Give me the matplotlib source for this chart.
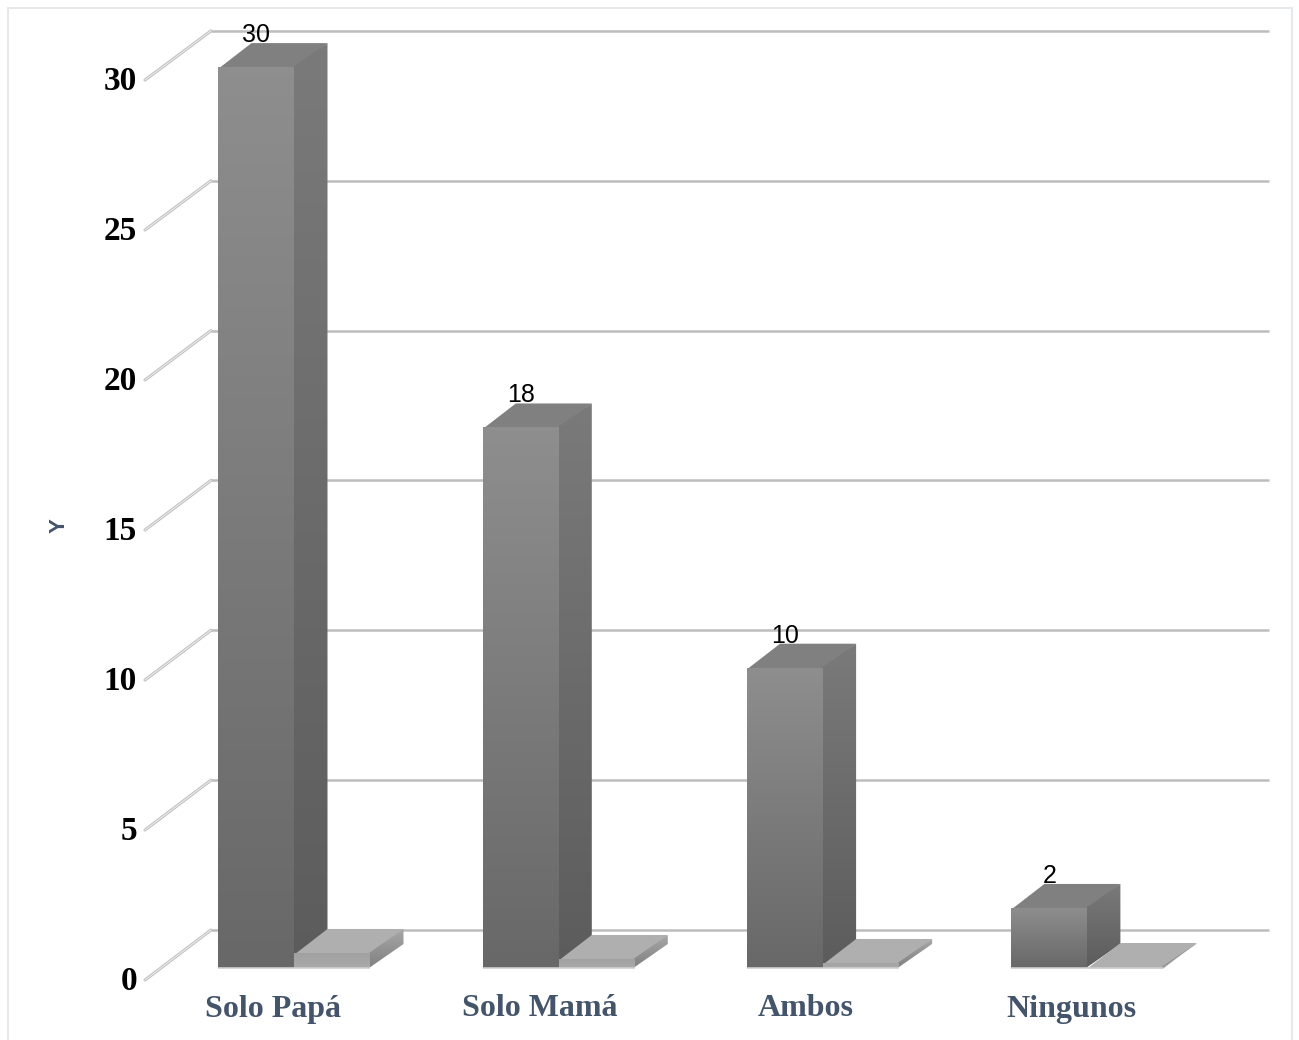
import numpy as np
import matplotlib
matplotlib.use("Agg")
import matplotlib.pyplot as plt
from matplotlib.patches import Polygon, Rectangle
from matplotlib.colors import LinearSegmentedColormap

categories = ["Solo Papá", "Solo Mamá", "Ambos", "Ningunos"]
counts = [30, 18, 10, 2]
shares = [0.5, 0.3, 0.167, 0.033]
y_ticks = [0, 5, 10, 15, 20, 25, 30]
count_labels = ["30", "18", "10", "2"]

# pixel layout of the fake 3d box
PX_PER_CAT = 264.3
PX_PER_VAL = 30.03
ZERO_X = 294.5
ZERO_Y = 968
BAR_W = 76 / PX_PER_CAT
DEPTH_X = 33 / PX_PER_CAT
DEPTH_Y = 24 / PX_PER_VAL
SEAM = 1.5 / PX_PER_CAT

GRID = "#bdbdbd"
SLATE = "#44546a"


def px_x(p):
    return (p - ZERO_X) / PX_PER_CAT


def px_y(p):
    return (ZERO_Y - p) / PX_PER_VAL


def face(ax, pts, top, bottom, z):
    # one polygon filled with a vertical gradient
    pts = np.array(pts)
    cmap = LinearSegmentedColormap.from_list("f", [bottom, top])
    grad = np.linspace(1, 0, 128).reshape(-1, 1)
    im = ax.imshow(grad, cmap=cmap, vmin=0, vmax=1, aspect="auto", zorder=z,
                   extent=(pts[:, 0].min(), pts[:, 0].max(), pts[:, 1].min(), pts[:, 1].max()))
    clip = Polygon(pts, closed=True, transform=ax.transData, facecolor="none", edgecolor="none")
    ax.add_patch(clip)
    im.set_clip_path(clip)


def bar3d(ax, x0, h, front, side, top, z):
    x1 = x0 + BAR_W
    dx, dy = DEPTH_X, DEPTH_Y
    # top and side go first and run slightly under the front, this hides the seam
    ax.add_patch(Polygon([(x0, h - 0.05), (x1, h - 0.05), (x1 + dx, h + dy), (x0 + dx, h + dy)],
                         closed=True, facecolor=top, edgecolor="none", zorder=z))
    face(ax, [(x1 - SEAM, 0), (x1 + dx, dy), (x1 + dx, h + dy), (x1 - SEAM, h)], side[0], side[1], z + 0.01)
    face(ax, [(x0, 0), (x1, 0), (x1, h), (x0, h)], front[0], front[1], z + 0.02)
    ax.plot([x0, x1], [0, 0], color="#cfcfcf", lw=1.2, zorder=z + 0.03, solid_capstyle="butt")


fig = plt.figure(figsize=(12.99, 10.4), dpi=100, facecolor="white")
ax = fig.add_axes([0, 0, 1, 1])
ax.axis("off")

fig.add_artist(Rectangle((8 / 1299, -0.01), 1284 / 1299, 1.01 - 8 / 1040, transform=fig.transFigure,
                         facecolor="none", edgecolor="#e6e8ec", lw=1.5))

# walls: gridlines on the back and the slanted ticks on the left
back = 38 / PX_PER_VAL
for v in y_ticks:
    yb = v * 29.97 / PX_PER_VAL + back
    yf = v * 30.0 / PX_PER_VAL + px_y(980)
    ax.plot([px_x(145), px_x(211)], [yf, yb], color=GRID, lw=2.2, zorder=1, solid_capstyle="round")
    ax.plot([px_x(145), px_x(211)], [yf, yb], color="#ececec", lw=0.8, zorder=1.1)
    ax.plot([px_x(211), px_x(1269)], [yb, yb], color=GRID, lw=1.8, zorder=1, solid_capstyle="butt")
    ax.text(px_x(137), yf - 2 / PX_PER_VAL, str(v), family="Liberation Serif", weight="bold", fontsize=24,
            ha="right", va="center", color="black", zorder=5)

for i, cat in enumerate(categories):
    bar3d(ax, i - BAR_W, counts[i], ("#8e8e8e", "#686868"), ("#7a7a7a", "#5c5c5c"), "#808080", 2 + i * 0.1)
    bar3d(ax, i, shares[i], ("#a0a0a0", "#aaaaaa"), ("#a8a8a8", "#808080"), "#afafaf", 3 + i * 0.1)
    ax.text(i - BAR_W + 38 / PX_PER_CAT, counts[i] + 32 / PX_PER_VAL, count_labels[i],
            family="Liberation Sans", fontsize=18, ha="center", va="center", color="black", zorder=6)
    ax.text(px_x(273 + 266.3 * i), px_y(1009), cat, family="Liberation Serif", weight="bold", fontsize=23,
            ha="center", va="center", color=SLATE, zorder=6)

ax.text(px_x(59), px_y(526), "Y", family="Liberation Sans", weight="bold", fontsize=16,
        rotation=90, ha="center", va="center", color=SLATE)

ax.set_xlim(px_x(0), px_x(1299))
ax.set_ylim(px_y(1040), px_y(0))

fig.savefig("out.png", dpi=100)
